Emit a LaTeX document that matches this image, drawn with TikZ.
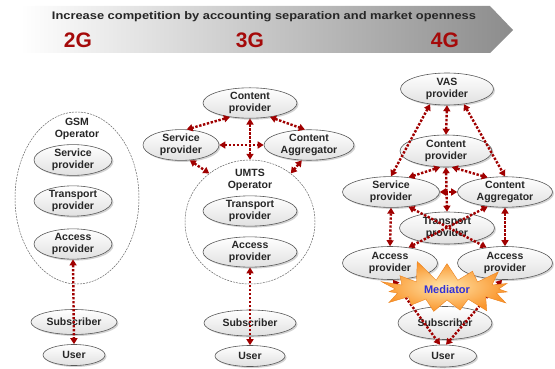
\documentclass[tikz,border=0pt]{standalone}
\usepackage{fontspec}
\usepackage{graphicx}
\setmainfont{Liberation Sans}
\usetikzlibrary{shapes.geometric,shapes.symbols,shadows,arrows.meta}

\definecolor{linkred}{RGB}{160,0,0}
\definecolor{genred}{RGB}{165,10,10}
\definecolor{medblue}{RGB}{50,50,215}
\definecolor{starin}{RGB}{255,228,170}
\definecolor{starout}{RGB}{250,150,45}
\definecolor{starline}{RGB}{235,130,30}

\tikzset{
    actor/.style={ellipse, draw=black!65, line width=0.6pt, top color=white, bottom color=black!12,
        drop shadow={shadow xshift=1.5pt, shadow yshift=-1.5pt, opacity=0.35},
        inner sep=0pt, align=center, text=black!85, font=\fontsize{10.5}{12}\selectfont\bfseries},
    operator/.style={ellipse, draw=black!60, dash pattern=on 2pt off 1pt, line width=0.5pt, inner sep=0pt},
    link/.style={draw=linkred, line width=2.4pt, dash pattern=on 2.4pt off 1.6pt,
        {Triangle[length=6pt,width=7pt]}-{Triangle[length=6pt,width=7pt]}},
    gen/.style={text=genred, font=\fontsize{21}{21}\selectfont\bfseries},
    mediator/.style={starburst, starburst points=15, starburst point height=22pt, random starburst=11,
        inner color=starin, outer color=starout, draw=starline, line width=0.4pt,
        minimum width=148pt, minimum height=64pt, inner sep=0pt,
        text=medblue, font=\fontsize{11}{12}\selectfont\bfseries},
}

\begin{document}
\begin{tikzpicture}[x=1pt, y=-1pt]
            \useasboundingbox (0,0) rectangle (555,369);

            % banner
            \shade[left color=white, right color=black!45] (20,6) -- (490,6) -- (513,30) -- (490,53) -- (20,53) -- cycle;
            \node[text=black!85, font=\fontsize{11}{12}\selectfont\bfseries] (title) at (264,17) {\scalebox{1.17}[1]{Increase competition by accounting separation and market openness}};
            \node[gen] (g2) at (78,40) {2G};
            \node[gen] (g3) at (250,40) {3G};
            \node[gen] (g4) at (445,40) {4G};

            % 2G
            \node[operator, minimum width=124pt, minimum height=172pt] (gsm) at (77,198) {};
            \node[align=center, text=black!85, font=\fontsize{10.5}{12}\selectfont\bfseries] (gsmtxt) at (77,129) {GSM\\Operator};
            \node[actor, minimum width=78pt, minimum height=27pt] (sp2) at (73,160) {Service\\provider};
            \node[actor, minimum width=78pt, minimum height=27pt] (tp2) at (73,201) {Transport\\provider};
            \node[actor, minimum width=78pt, minimum height=27pt] (ap2) at (73,244) {Access\\provider};
            \node[actor, minimum width=86pt, minimum height=25pt] (sub2) at (74,322) {Subscriber};
            \node[actor, minimum width=62pt, minimum height=21pt] (user2) at (74,355) {User};

            \draw[link] (ap2.south) -- (user2.north);

            % 3G
            \node[operator, minimum width=130pt, minimum height=124pt] (umts) at (250,222) {};
            \node[align=center, text=black!85, font=\fontsize{10.5}{12}\selectfont\bfseries] (umtstxt) at (250,180) {UMTS\\Operator};
            \node[actor, minimum width=94pt, minimum height=30pt] (cp3) at (250,103) {Content\\provider};
            \node[actor, minimum width=76pt, minimum height=27pt] (sp3) at (181,145) {Service\\provider};
            \node[actor, minimum width=90pt, minimum height=27pt] (ca3) at (309,145) {Content\\Aggregator};
            \node[actor, minimum width=94pt, minimum height=27pt] (tp3) at (250,211) {Transport\\provider};
            \node[actor, minimum width=94pt, minimum height=27pt] (ap3) at (250,252) {Access\\provider};
            \node[actor, minimum width=92pt, minimum height=26pt] (sub3) at (250,323) {Subscriber};
            \node[actor, minimum width=70pt, minimum height=21pt] (user3) at (250,356) {User};

            \draw[link] (cp3.215) -- (sp3.70);
            \draw[link] (cp3.325) -- (ca3.105);
            \draw[link] (cp3.south) -- (umts.north);
            \draw[link] (sp3.east) -- (ca3.west);
            \draw[link] (sp3.300) -- (umts.130);
            \draw[link] (ca3.245) -- (umts.50);
            \draw[link] (ap3.south) -- (user3.north);

            % 4G
            \node[actor, minimum width=93pt, minimum height=32pt] (vas4) at (447,89) {VAS\\provider};
            \node[actor, minimum width=92pt, minimum height=32pt] (cp4) at (446,151) {Content\\provider};
            \node[actor, minimum width=97pt, minimum height=30pt] (sp4) at (391,192) {Service\\provider};
            \node[actor, minimum width=95pt, minimum height=30pt] (ca4) at (505,192) {Content\\Aggregator};
            \node[actor, minimum width=95pt, minimum height=32pt] (tp4) at (447,228) {Transport\\provider};
            \node[actor, minimum width=95pt, minimum height=33pt] (apl4) at (390,263) {Access\\provider};
            \node[actor, minimum width=95pt, minimum height=33pt] (apr4) at (505,263) {Access\\provider};
            \node[actor, minimum width=94pt, minimum height=33pt] (sub4) at (445,323) {Subscriber};
            \node[actor, minimum width=67pt, minimum height=22pt] (user4) at (443,356) {User};

            \draw[link] (vas4.south) -- (cp4.north);
            \draw[link] (vas4.222) -- (sp4.north);
            \draw[link] (vas4.318) -- (ca4.north);
            \draw[link] (cp4.250) -- (sp4.40);
            \draw[link] (cp4.290) -- (ca4.140);
            \draw[link] (cp4.south) -- (tp4.north);
            \draw[link] (sp4.east) -- (ca4.west);
            \draw[link] (sp4.south) -- (apl4.north);
            \draw[link] (ca4.south) -- (apr4.north);
            \draw[link] (sp4.320) -- (apr4.140);
            \draw[link] (ca4.220) -- (apl4.40);
            \draw[link] (apl4.280) -- (user4.105);
            \draw[link] (apr4.260) -- (user4.75);

            \node[mediator] (med) at (447,290) {Mediator};

        \end{tikzpicture}
\end{document}
